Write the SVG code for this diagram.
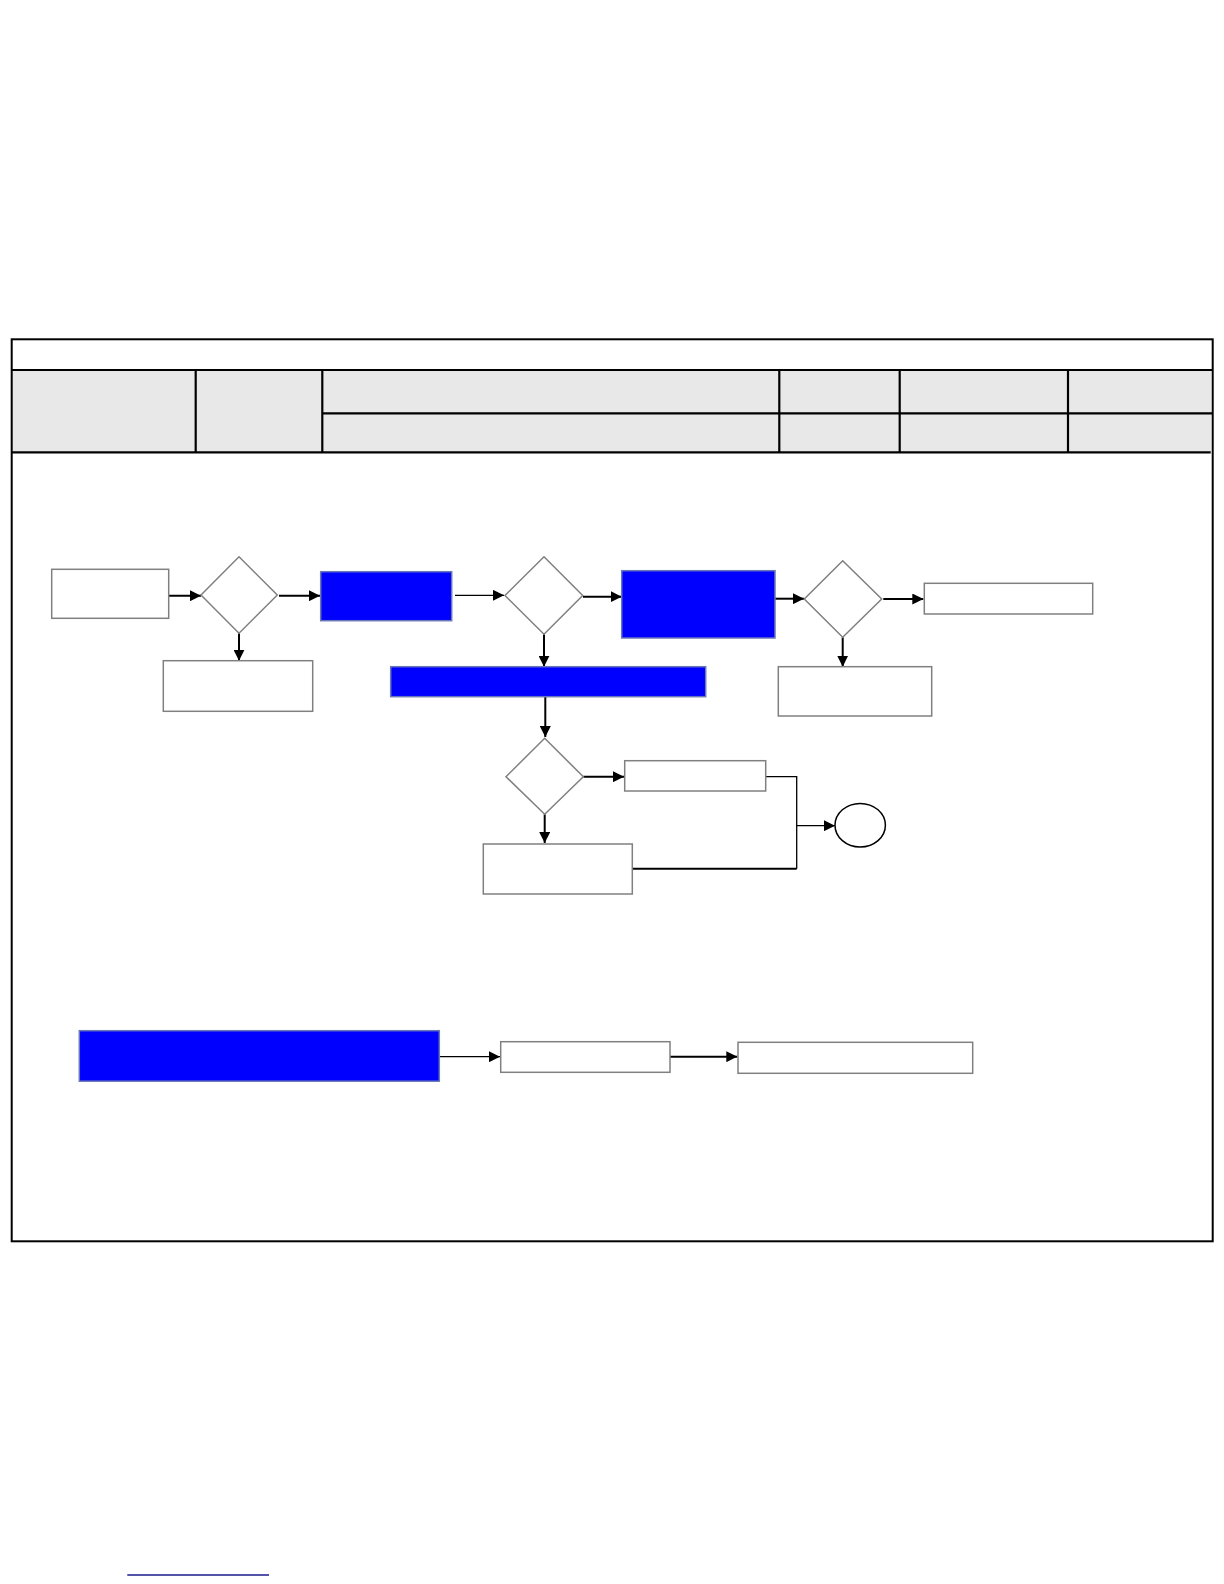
<svg xmlns="http://www.w3.org/2000/svg" width="1224" height="1584" viewBox="0 0 1224 1584">
<style>
.frame{fill:none;stroke:#000;stroke-width:2}
.hdr{fill:#e8e8e8;stroke:none}
.grid{stroke:#000;stroke-width:2.2;fill:none}
.box{fill:#fff;stroke:#808080;stroke-width:1.5}
.blue{fill:#0000ff;stroke:#6a78b8;stroke-width:1.5}
.dia{fill:#fff;stroke:#808080;stroke-width:1.5}
.con{fill:none;stroke:#000;stroke-width:2}
.thin{fill:none;stroke:#000;stroke-width:1.3}
</style>
<defs>
<marker id="ah" viewBox="0 0 10 10" refX="10" refY="5" markerWidth="5.5" markerHeight="5.5" orient="auto" markerUnits="strokeWidth">
<path d="M0,0 L10,5 L0,10 z" fill="#000"/>
</marker>
<marker id="ah2" viewBox="0 0 10 10" refX="10" refY="5" markerWidth="8.5" markerHeight="8.5" orient="auto" markerUnits="strokeWidth">
<path d="M0,0 L10,5 L0,10 z" fill="#000"/>
</marker>
</defs>
<rect width="1224" height="1584" fill="#fff"/>
<g id="frame">
<rect class="hdr" x="12" y="370" width="1199" height="82"/>
<rect class="frame" x="11.7" y="339.3" width="1201" height="902"/>
<line class="grid" x1="11.7" y1="370" x2="1212.7" y2="370"/>
<line class="grid" x1="11.7" y1="452.3" x2="1210.7" y2="452.3"/>
<line class="grid" x1="322.3" y1="413.3" x2="1212.7" y2="413.3"/>
<line class="grid" x1="195.7" y1="370" x2="195.7" y2="452.3"/>
<line class="grid" x1="322.3" y1="370" x2="322.3" y2="452.3"/>
<line class="grid" x1="779.3" y1="370" x2="779.3" y2="452.3"/>
<line class="grid" x1="899.7" y1="370" x2="899.7" y2="452.3"/>
<line class="grid" x1="1068" y1="370" x2="1068" y2="452.3"/>
</g>
<g id="connectors">
<line class="con" x1="168.7" y1="595.7" x2="201" y2="595.7" marker-end="url(#ah)"/>
<line class="con" x1="279" y1="595.7" x2="320" y2="595.7" marker-end="url(#ah)"/>
<line class="con" x1="239" y1="633.3" x2="239" y2="660.7" marker-end="url(#ah)"/>
<line class="thin" x1="455" y1="595.3" x2="504" y2="595.3" marker-end="url(#ah2)"/>
<line class="con" x1="583" y1="596.7" x2="621.7" y2="596.7" marker-end="url(#ah)"/>
<line class="con" x1="544" y1="634.3" x2="544" y2="666.7" marker-end="url(#ah)"/>
<line class="con" x1="775" y1="598.7" x2="804" y2="598.7" marker-end="url(#ah)"/>
<line class="con" x1="883.3" y1="599" x2="923.3" y2="599" marker-end="url(#ah)"/>
<line class="con" x1="842.7" y1="637.3" x2="842.7" y2="666.7" marker-end="url(#ah)"/>
<line class="con" x1="545.3" y1="697" x2="545.3" y2="737" marker-end="url(#ah)"/>
<line class="con" x1="583.3" y1="776.7" x2="624" y2="776.7" marker-end="url(#ah)"/>
<line class="con" x1="544.7" y1="814.3" x2="544.7" y2="843" marker-end="url(#ah)"/>
<polyline class="thin" points="765.7,776.7 796.7,776.7 796.7,868.7"/>
<polyline class="con" points="632.3,868.7 796.7,868.7"/>
<line class="thin" x1="796.7" y1="825.7" x2="835" y2="825.7" marker-end="url(#ah2)"/>
<line class="thin" x1="439.3" y1="1056.7" x2="500" y2="1056.7" marker-end="url(#ah2)"/>
<line class="con" x1="670" y1="1056.7" x2="737.3" y2="1056.7" marker-end="url(#ah)"/>
</g>
<g id="start"><rect class="box" x="51.7" y="569.3" width="117" height="49"/></g>
<g id="decision1"><polygon class="dia" points="239,556.7 277.3,595 239,633.3 201,595"/></g>
<g id="box2"><rect class="box" x="163.3" y="660.7" width="149.4" height="50.6"/></g>
<g id="blue1"><rect class="blue" x="320.7" y="571.7" width="131" height="49"/></g>
<g id="decision2"><polygon class="dia" points="544,556.7 582.7,595.5 544,634.3 505,595.5"/></g>
<g id="blue2"><rect class="blue" x="621.7" y="570.7" width="153.3" height="67.3"/></g>
<g id="decision3"><polygon class="dia" points="842.7,560.7 881.7,599 842.7,637.3 804.3,599"/></g>
<g id="box4"><rect class="box" x="924.3" y="583.3" width="168.4" height="30.7"/></g>
<g id="box3"><rect class="box" x="778.3" y="666.7" width="153.4" height="49.3"/></g>
<g id="bluebar"><rect class="blue" x="390.7" y="666.7" width="315" height="30"/></g>
<g id="decision4"><polygon class="dia" points="544.7,738.3 583.3,776.7 544.7,814.3 506,776.7"/></g>
<g id="box5"><rect class="box" x="624.7" y="760.7" width="141" height="30.3" stroke-width="2"/></g>
<g id="box6"><rect class="box" x="483.3" y="844" width="149" height="50" stroke-width="2"/></g>
<g id="end"><ellipse cx="860.2" cy="825.2" rx="25.2" ry="21.8" fill="#fff" stroke="#000" stroke-width="1.5"/></g>
<g id="blue3"><rect class="blue" x="79.3" y="1030.7" width="360" height="50.5"/></g>
<g id="box7"><rect class="box" x="500.7" y="1041.7" width="169.3" height="30.6"/></g>
<g id="box8"><rect class="box" x="738" y="1042.3" width="234.7" height="31"/></g>
<line x1="127.3" y1="1575" x2="269" y2="1575" stroke="#1a1a8c" stroke-width="1.3"/>
</svg>
